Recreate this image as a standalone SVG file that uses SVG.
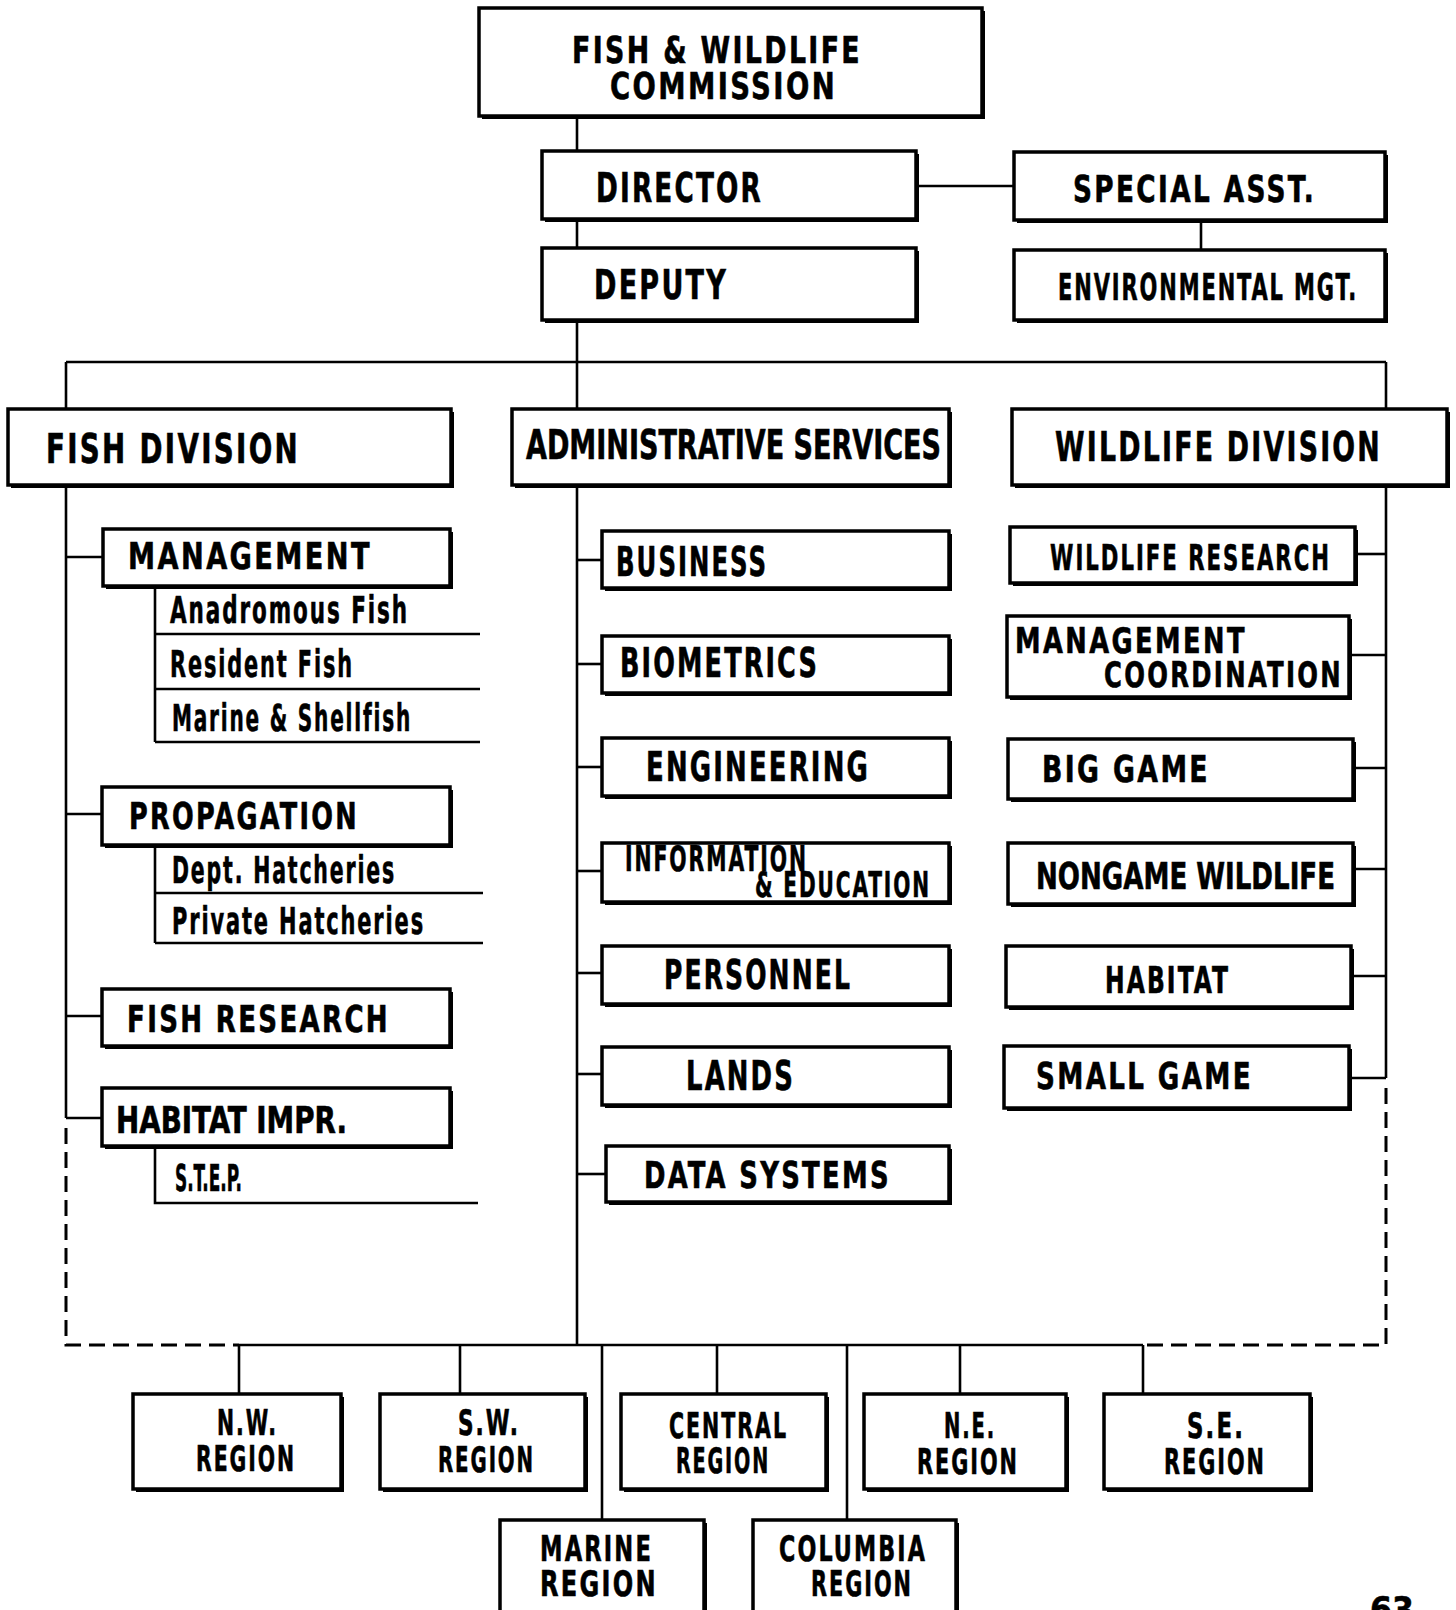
<svg xmlns="http://www.w3.org/2000/svg" width="1456" height="1610" viewBox="0 0 1456 1610">
<style>
.bg{fill:#fff}
.sh{fill:#000}
.bx{fill:#fff;stroke:#000;stroke-width:3.5}
.ln{stroke:#000;stroke-width:2.6;fill:none}
.dl{stroke:#000;stroke-width:3;fill:none;stroke-dasharray:16 8}
text{font-family:"Liberation Sans Narrow","DejaVu Sans Condensed","Liberation Sans",sans-serif;font-weight:bold;fill:#000;stroke:#000;stroke-width:0.6;letter-spacing:3px}
.tight{letter-spacing:0px}
.t40{font-size:40px}
.t38{font-size:38px}
.t36{font-size:37px}
.t34{font-size:35px}
</style>
<rect class="bg" x="0" y="0" width="1456" height="1610"/>
<g id="connectors">
<line class="ln" x1="577" y1="119" x2="577" y2="1345"/>
<line class="ln" x1="916" y1="186" x2="1014" y2="186"/>
<line class="ln" x1="1201" y1="220" x2="1201" y2="250"/>
<line class="ln" x1="66" y1="362" x2="1386" y2="362"/>
<line class="ln" x1="66" y1="362" x2="66" y2="409"/>
<line class="ln" x1="1386" y1="362" x2="1386" y2="409"/>
<line class="ln" x1="66" y1="485" x2="66" y2="1118"/>
<line class="ln" x1="66" y1="557" x2="103" y2="557"/>
<line class="ln" x1="66" y1="814" x2="102" y2="814"/>
<line class="ln" x1="66" y1="1016" x2="102" y2="1016"/>
<line class="ln" x1="66" y1="1118" x2="102" y2="1118"/>
<path class="ln" d="M155 586 V742 M155 634 H480 M155 689 H480 M155 742 H480"/>
<path class="ln" d="M155 845 V943 M155 893 H483 M155 943 H483"/>
<path class="ln" d="M155 1146 V1203 H478"/>
<path class="dl" d="M66 1128 V1345 H239"/>
<line class="ln" x1="577" y1="560" x2="602" y2="560"/>
<line class="ln" x1="577" y1="664" x2="602" y2="664"/>
<line class="ln" x1="577" y1="767" x2="602" y2="767"/>
<line class="ln" x1="577" y1="871" x2="602" y2="871"/>
<line class="ln" x1="577" y1="973" x2="602" y2="973"/>
<line class="ln" x1="577" y1="1074" x2="602" y2="1074"/>
<line class="ln" x1="577" y1="1174" x2="606" y2="1174"/>
<line class="ln" x1="1386" y1="485" x2="1386" y2="1078"/>
<line class="ln" x1="1355" y1="554" x2="1386" y2="554"/>
<line class="ln" x1="1349" y1="655" x2="1386" y2="655"/>
<line class="ln" x1="1353" y1="768" x2="1386" y2="768"/>
<line class="ln" x1="1353" y1="869" x2="1386" y2="869"/>
<line class="ln" x1="1351" y1="976" x2="1386" y2="976"/>
<line class="ln" x1="1349" y1="1078" x2="1386" y2="1078"/>
<path class="dl" d="M1386 1088 V1345 H1143"/>
<line class="ln" x1="239" y1="1345" x2="1143" y2="1345"/>
<line class="ln" x1="239" y1="1345" x2="239" y2="1394"/>
<line class="ln" x1="460" y1="1345" x2="460" y2="1394"/>
<line class="ln" x1="717" y1="1345" x2="717" y2="1394"/>
<line class="ln" x1="960" y1="1345" x2="960" y2="1394"/>
<line class="ln" x1="1143" y1="1345" x2="1143" y2="1394"/>
<line class="ln" x1="602" y1="1345" x2="602" y2="1520"/>
<line class="ln" x1="847" y1="1345" x2="847" y2="1520"/>
</g>
<g id="commission"><rect class="sh" x="482" y="11" width="503" height="108"/><rect class="bx" x="479" y="8" width="503" height="108"/>
<text class="t38" x="572" y="63" textLength="290" lengthAdjust="spacingAndGlyphs">FISH &amp; WILDLIFE</text>
<text class="t38" x="610" y="99" textLength="227" lengthAdjust="spacingAndGlyphs">COMMISSION</text></g>
<g id="director"><rect class="sh" x="545" y="154" width="374" height="68"/><rect class="bx" x="542" y="151" width="374" height="68"/>
<text class="t40" x="596" y="202" textLength="167" lengthAdjust="spacingAndGlyphs">DIRECTOR</text></g>
<g id="special-asst"><rect class="sh" x="1017" y="155" width="371" height="68"/><rect class="bx" x="1014" y="152" width="371" height="68"/>
<text class="t36" x="1073" y="202" textLength="243" lengthAdjust="spacingAndGlyphs">SPECIAL  ASST.</text></g>
<g id="deputy"><rect class="sh" x="545" y="251" width="374" height="72"/><rect class="bx" x="542" y="248" width="374" height="72"/>
<text class="t40" x="594" y="299" textLength="134" lengthAdjust="spacingAndGlyphs">DEPUTY</text></g>
<g id="environmental-mgt"><rect class="sh" x="1017" y="253" width="371" height="70"/><rect class="bx" x="1014" y="250" width="371" height="70"/>
<text class="t36" x="1058" y="300" textLength="300" lengthAdjust="spacingAndGlyphs">ENVIRONMENTAL MGT.</text></g>
<g id="fish-division"><rect class="sh" x="11" y="412" width="443" height="76"/><rect class="bx" x="8" y="409" width="443" height="76"/>
<text class="t40" x="46" y="463" textLength="254" lengthAdjust="spacingAndGlyphs">FISH DIVISION</text></g>
<g id="admin-services"><rect class="sh" x="515" y="412" width="437" height="76"/><rect class="bx" x="512" y="409" width="437" height="76"/>
<text class="t40 tight" x="526" y="459" textLength="415" lengthAdjust="spacingAndGlyphs">ADMINISTRATIVE SERVICES</text></g>
<g id="wildlife-division"><rect class="sh" x="1015" y="412" width="435" height="76"/><rect class="bx" x="1012" y="409" width="435" height="76"/>
<text class="t40" x="1055" y="461" textLength="327" lengthAdjust="spacingAndGlyphs">WILDLIFE DIVISION</text></g>
<g id="fish-management"><rect class="sh" x="106" y="532" width="347" height="57"/><rect class="bx" x="103" y="529" width="347" height="57"/>
<text class="t36" x="128" y="569" textLength="244" lengthAdjust="spacingAndGlyphs">MANAGEMENT</text>
<text class="t36" x="170" y="623" textLength="239" lengthAdjust="spacingAndGlyphs">Anadromous  Fish</text>
<text class="t36" x="170" y="677" textLength="184" lengthAdjust="spacingAndGlyphs">Resident Fish</text>
<text class="t36" x="172" y="731" textLength="240" lengthAdjust="spacingAndGlyphs">Marine &amp; Shellfish</text></g>
<g id="propagation"><rect class="sh" x="105" y="790" width="348" height="58"/><rect class="bx" x="102" y="787" width="348" height="58"/>
<text class="t36" x="129" y="829" textLength="230" lengthAdjust="spacingAndGlyphs">PROPAGATION</text>
<text class="t36" x="172" y="883" textLength="224" lengthAdjust="spacingAndGlyphs">Dept. Hatcheries</text>
<text class="t36" x="172" y="934" textLength="253" lengthAdjust="spacingAndGlyphs">Private Hatcheries</text></g>
<g id="fish-research"><rect class="sh" x="105" y="992" width="348" height="57"/><rect class="bx" x="102" y="989" width="348" height="57"/>
<text class="t36" x="127" y="1032" textLength="263" lengthAdjust="spacingAndGlyphs">FISH  RESEARCH</text></g>
<g id="habitat-impr"><rect class="sh" x="105" y="1091" width="348" height="58"/><rect class="bx" x="102" y="1088" width="348" height="58"/>
<text class="t36 tight" x="116" y="1133" textLength="231" lengthAdjust="spacingAndGlyphs">HABITAT IMPR.</text>
<text class="t36 tight" x="175" y="1191" textLength="67" lengthAdjust="spacingAndGlyphs">S.T.E.P.</text></g>
<g id="business"><rect class="sh" x="605" y="534" width="347" height="57"/><rect class="bx" x="602" y="531" width="347" height="57"/>
<text class="t40" x="616" y="576" textLength="152" lengthAdjust="spacingAndGlyphs">BUSINESS</text></g>
<g id="biometrics"><rect class="sh" x="605" y="639" width="347" height="57"/><rect class="bx" x="602" y="636" width="347" height="57"/>
<text class="t40" x="620" y="677" textLength="199" lengthAdjust="spacingAndGlyphs">BIOMETRICS</text></g>
<g id="engineering"><rect class="sh" x="605" y="741" width="347" height="58"/><rect class="bx" x="602" y="738" width="347" height="58"/>
<text class="t40" x="646" y="781" textLength="224" lengthAdjust="spacingAndGlyphs">ENGINEERING</text></g>
<g id="info-education"><rect class="sh" x="605" y="846" width="347" height="59"/><rect class="bx" x="602" y="843" width="347" height="59"/>
<text class="t34" x="625" y="871" textLength="183" lengthAdjust="spacingAndGlyphs">INFORMATION</text>
<text class="t34" x="755" y="897" textLength="176" lengthAdjust="spacingAndGlyphs">&amp; EDUCATION</text></g>
<g id="personnel"><rect class="sh" x="605" y="949" width="347" height="58"/><rect class="bx" x="602" y="946" width="347" height="58"/>
<text class="t40" x="664" y="989" textLength="188" lengthAdjust="spacingAndGlyphs">PERSONNEL</text></g>
<g id="lands"><rect class="sh" x="605" y="1050" width="347" height="58"/><rect class="bx" x="602" y="1047" width="347" height="58"/>
<text class="t40" x="686" y="1090" textLength="109" lengthAdjust="spacingAndGlyphs">LANDS</text></g>
<g id="data-systems"><rect class="sh" x="609" y="1149" width="343" height="56"/><rect class="bx" x="606" y="1146" width="343" height="56"/>
<text class="t36" x="644" y="1188" textLength="247" lengthAdjust="spacingAndGlyphs">DATA  SYSTEMS</text></g>
<g id="wildlife-research"><rect class="sh" x="1013" y="530" width="345" height="56"/><rect class="bx" x="1010" y="527" width="345" height="56"/>
<text class="t34" x="1050" y="570" textLength="281" lengthAdjust="spacingAndGlyphs">WILDLIFE RESEARCH</text></g>
<g id="management-coordination"><rect class="sh" x="1010" y="619" width="342" height="81"/><rect class="bx" x="1007" y="616" width="342" height="81"/>
<text class="t34" x="1015" y="653" textLength="232" lengthAdjust="spacingAndGlyphs">MANAGEMENT</text>
<text class="t34" x="1104" y="687" textLength="239" lengthAdjust="spacingAndGlyphs">COORDINATION</text></g>
<g id="big-game"><rect class="sh" x="1011" y="742" width="345" height="60"/><rect class="bx" x="1008" y="739" width="345" height="60"/>
<text class="t36" x="1042" y="782" textLength="168" lengthAdjust="spacingAndGlyphs">BIG GAME</text></g>
<g id="nongame-wildlife"><rect class="sh" x="1011" y="846" width="345" height="61"/><rect class="bx" x="1008" y="843" width="345" height="61"/>
<text class="t36 tight" x="1036" y="889" textLength="299" lengthAdjust="spacingAndGlyphs">NONGAME WILDLIFE</text></g>
<g id="habitat"><rect class="sh" x="1009" y="949" width="345" height="61"/><rect class="bx" x="1006" y="946" width="345" height="61"/>
<text class="t36" x="1105" y="993" textLength="125" lengthAdjust="spacingAndGlyphs">HABITAT</text></g>
<g id="small-game"><rect class="sh" x="1007" y="1049" width="345" height="62"/><rect class="bx" x="1004" y="1046" width="345" height="62"/>
<text class="t36" x="1036" y="1089" textLength="217" lengthAdjust="spacingAndGlyphs">SMALL  GAME</text></g>
<g id="nw-region"><rect class="sh" x="136" y="1397" width="208" height="95"/><rect class="bx" x="133" y="1394" width="208" height="95"/>
<text class="t34" x="217" y="1435" textLength="61" lengthAdjust="spacingAndGlyphs">N.W.</text>
<text class="t34" x="196" y="1471" textLength="100" lengthAdjust="spacingAndGlyphs">REGION</text></g>
<g id="sw-region"><rect class="sh" x="383" y="1397" width="205" height="95"/><rect class="bx" x="380" y="1394" width="205" height="95"/>
<text class="t34" x="458" y="1435" textLength="62" lengthAdjust="spacingAndGlyphs">S.W.</text>
<text class="t34" x="438" y="1472" textLength="97" lengthAdjust="spacingAndGlyphs">REGION</text></g>
<g id="central-region"><rect class="sh" x="624" y="1397" width="205" height="95"/><rect class="bx" x="621" y="1394" width="205" height="95"/>
<text class="t34" x="669" y="1438" textLength="119" lengthAdjust="spacingAndGlyphs">CENTRAL</text>
<text class="t34" x="676" y="1473" textLength="94" lengthAdjust="spacingAndGlyphs">REGION</text></g>
<g id="ne-region"><rect class="sh" x="867" y="1397" width="202" height="95"/><rect class="bx" x="864" y="1394" width="202" height="95"/>
<text class="t34" x="944" y="1438" textLength="52" lengthAdjust="spacingAndGlyphs">N.E.</text>
<text class="t34" x="917" y="1474" textLength="102" lengthAdjust="spacingAndGlyphs">REGION</text></g>
<g id="se-region"><rect class="sh" x="1107" y="1397" width="206" height="95"/><rect class="bx" x="1104" y="1394" width="206" height="95"/>
<text class="t34" x="1187" y="1438" textLength="58" lengthAdjust="spacingAndGlyphs">S.E.</text>
<text class="t34" x="1164" y="1474" textLength="102" lengthAdjust="spacingAndGlyphs">REGION</text></g>
<g id="marine-region"><rect class="sh" x="503" y="1523" width="204" height="100"/><rect class="bx" x="500" y="1520" width="204" height="100"/>
<text class="t34" x="540" y="1561" textLength="113" lengthAdjust="spacingAndGlyphs">MARINE</text>
<text class="t34" x="540" y="1596" textLength="118" lengthAdjust="spacingAndGlyphs">REGION</text></g>
<g id="columbia-region"><rect class="sh" x="756" y="1523" width="203" height="100"/><rect class="bx" x="753" y="1520" width="203" height="100"/>
<text class="t34" x="779" y="1561" textLength="148" lengthAdjust="spacingAndGlyphs">COLUMBIA</text>
<text class="t34" x="811" y="1596" textLength="102" lengthAdjust="spacingAndGlyphs">REGION</text></g>
<text class="t34 tight" x="1370" y="1622">63</text>
</svg>
